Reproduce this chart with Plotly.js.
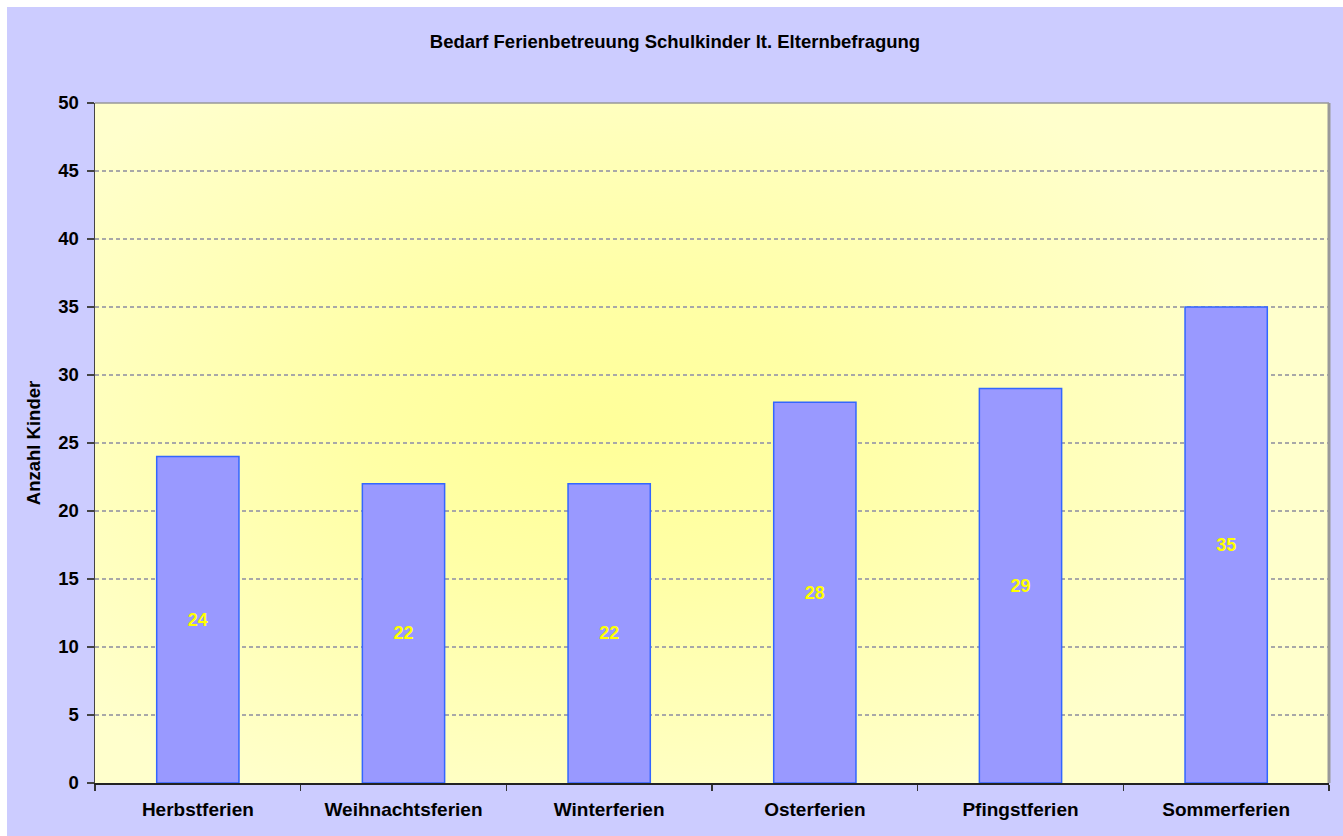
<!DOCTYPE html>
<html>
<head>
<meta charset="utf-8">
<script src="https://cdn.plot.ly/plotly-3.0.1.min.js"></script>
<style>
  html, body { margin: 0; padding: 0; background: #FFFFFF; }
  #chart { position: absolute; left: 7px; top: 7px; width: 1336px; height: 829px; }
</style>
</head>
<body>
<div id="chart"></div>
<script>
const categories = ["Herbstferien", "Weihnachtsferien", "Winterferien", "Osterferien", "Pfingstferien", "Sommerferien"];
const values = [24, 22, 22, 28, 29, 35];
const yTickValues = [0, 5, 10, 15, 20, 25, 30, 35, 40, 45, 50];

// gradient background image for the plot area
function makeGradient() {
  const w = 1234, h = 680;
  const c = document.createElement('canvas');
  c.width = w; c.height = h;
  const ctx = c.getContext('2d');
  ctx.fillStyle = '#FFFFCC';
  ctx.fillRect(0, 0, w, h);
  ctx.save();
  ctx.translate(500, 330);
  ctx.scale(1.6, 1);
  const g = ctx.createRadialGradient(0, 0, 0, 0, 0, 420);
  g.addColorStop(0, '#FFFF99');
  g.addColorStop(0.35, '#FFFFA6');
  g.addColorStop(1, '#FFFFCC');
  ctx.fillStyle = g;
  ctx.fillRect(-500, -400, 1200, 800);
  ctx.restore();
  return c.toDataURL('image/png');
}

const FONT = 'Liberation Sans, Arial, sans-serif';

const trace = {
  type: 'bar',
  x: categories,
  y: values,
  marker: { color: '#9999FF', line: { color: '#3366FF', width: 1.5 } },
  texttemplate: '%{y}',
  textposition: 'inside',
  insidetextanchor: 'middle',
  textangle: 0,
  constraintext: 'none',
  textfont: { family: FONT, size: 18, color: '#FFFF00', weight: 'bold' },
  hoverinfo: 'skip'
};

const layout = {
  width: 1336,
  height: 829,
  margin: { l: 88, r: 14, t: 96, b: 53 },
  paper_bgcolor: '#CCCCFF',
  plot_bgcolor: 'rgba(0,0,0,0)',
  showlegend: false,
  bargap: 0.6,
  font: { family: FONT, color: '#000000' },
  title: {
    text: 'Bedarf Ferienbetreuung Schulkinder lt. Elternbefragung',
    font: { family: FONT, size: 18.5, weight: 'bold', color: '#000000' },
    x: 0.5, xanchor: 'center',
    y: 1 - 35 / 829, yanchor: 'middle', yref: 'container'
  },
  xaxis: {
    type: 'category',
    tickson: 'boundaries',
    ticks: 'outside',
    ticklen: 6,
    tickwidth: 1.5,
    tickcolor: '#333333',
    showline: true,
    linecolor: '#222222',
    linewidth: 1.5,
    showgrid: false,
    zeroline: false,
    tickfont: { family: FONT, size: 19, weight: 'bold', color: '#000000' },
    ticklabelstandoff: 9
  },
  yaxis: {
    range: [0, 50],
    tickvals: yTickValues,
    ticktext: yTickValues.map(String),
    ticks: 'outside',
    ticklen: 7,
    tickwidth: 1.5,
    tickcolor: '#444444',
    showline: true,
    linecolor: '#444444',
    linewidth: 1.5,
    showgrid: true,
    gridcolor: '#A8A8A8',
    gridwidth: 1.2,
    griddash: '4px,3px',
    zeroline: false,
    tickfont: { family: FONT, size: 18.5, weight: 'bold', color: '#000000' },
    ticklabelstandoff: 4,
    title: {
      text: 'Anzahl Kinder',
      font: { family: FONT, size: 18.5, weight: 'bold', color: '#000000' },
      standoff: 12
    }
  },
  images: [{
    source: makeGradient(),
    xref: 'paper', yref: 'paper',
    x: 0, y: 1, sizex: 1, sizey: 1,
    xanchor: 'left', yanchor: 'top',
    sizing: 'stretch',
    layer: 'below'
  }],
  shapes: [
    { type: 'line', xref: 'paper', yref: 'paper', x0: 0, x1: 1, y0: 1, y1: 1,
      line: { color: '#999999', width: 1.5 }, layer: 'above' },
    { type: 'line', xref: 'paper', yref: 'paper', x0: 1, x1: 1, y0: 0, y1: 1,
      line: { color: '#999999', width: 3 }, layer: 'above' }
  ]
};

Plotly.newPlot('chart', [trace], layout, { staticPlot: true, displayModeBar: false });
</script>
</body>
</html>
